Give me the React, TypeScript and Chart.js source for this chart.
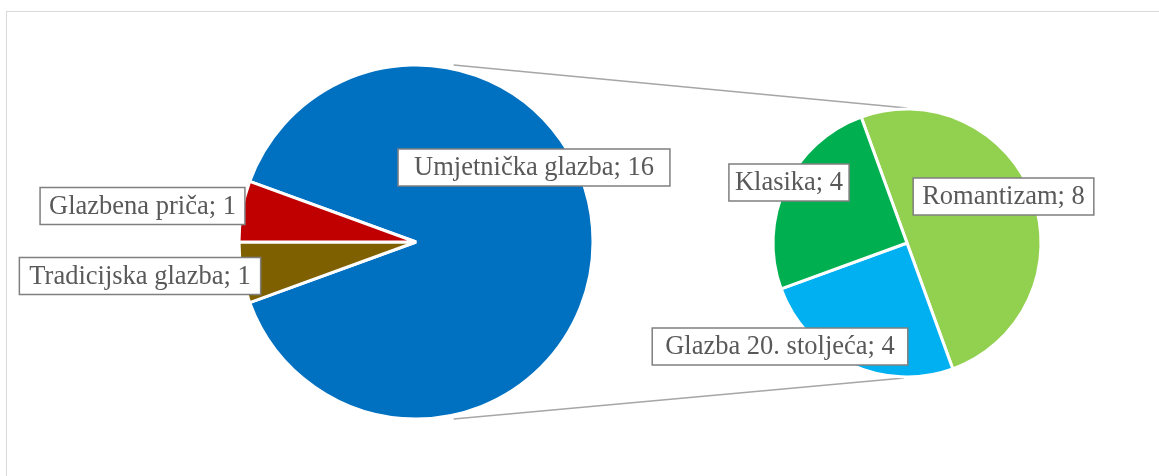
import React, { useEffect, useRef } from 'react';
import { Chart, registerables } from 'chart.js';

Chart.register(...registerables);

// ---- data ----
const mainLabels = ['Umjetnička glazba', 'Tradicijska glazba', 'Glazbena priča'];
const mainValues = [16, 1, 1];
const mainColors = ['#0070C0', '#7F6000', '#C00000'];

const subLabels = ['Romantizam', 'Glazba 20. stoljeća', 'Klasika'];
const subValues = [8, 4, 4];
const subColors = ['#92D050', '#00B0F0', '#00B050'];

// ---- layout (relative to each pie's centre) ----
const mainLabelOffsets: [number, number][] = [[118, -74.5], [-276, 34], [-273.5, -36]];
const mainLabelPad = [16, 10, 9];
const subLabelOffsets: [number, number][] = [[96.5, -46.5], [-127, 103.5], [-118, -60.5]];
const subLabelPad = [9, 13, 6];

const W = 1159;
const H = 476;
const FONT = '26.5px "Liberation Serif", "Times New Roman", serif';

function makeLabelPlugin(
  labels: string[],
  values: number[],
  offsets: [number, number][],
  pads: number[]
) {
  return {
    id: 'boxLabels',
    afterDatasetsDraw(chart: any) {
      const ctx = chart.ctx as CanvasRenderingContext2D;
      const meta = chart.getDatasetMeta(0);
      const a0: any = meta.data[0];
      const cx = a0.x;
      const cy = a0.y;
      ctx.save();
      ctx.font = FONT;
      ctx.textAlign = 'center';
      ctx.textBaseline = 'middle';
      labels.forEach((l, i) => {
        const text = `${l}; ${values[i]}`;
        const tw = ctx.measureText(text).width;
        const bw = tw + 2 * pads[i];
        const bh = 37;
        const x = cx + offsets[i][0];
        const y = cy + offsets[i][1];
        ctx.fillStyle = '#FFFFFF';
        ctx.fillRect(x - bw / 2, y - bh / 2, bw, bh);
        ctx.strokeStyle = '#7F7F7F';
        ctx.lineWidth = 1.5;
        ctx.strokeRect(x - bw / 2, y - bh / 2, bw, bh);
        ctx.fillStyle = '#595959';
        ctx.fillText(text, x, y + 1);
      });
      ctx.restore();
    },
  };
}

export default function App() {
  const mainRef = useRef<HTMLCanvasElement>(null);
  const subRef = useRef<HTMLCanvasElement>(null);

  useEffect(() => {
    const mainChart = new Chart(mainRef.current!, {
      type: 'pie',
      data: {
        labels: mainLabels,
        datasets: [
          {
            data: mainValues,
            backgroundColor: mainColors,
            borderColor: '#FFFFFF',
            borderWidth: 3,
          },
        ],
      },
      options: {
        responsive: false,
        animation: false,
        rotation: -70,
        radius: 177,
        layout: { padding: { left: 0, right: 327, top: 8, bottom: 0 } },
        plugins: { legend: { display: false }, tooltip: { enabled: false } },
      },
      plugins: [makeLabelPlugin(mainLabels, mainValues, mainLabelOffsets, mainLabelPad)],
    });

    const connectorPlugin = {
      id: 'connectors',
      beforeDatasetsDraw(chart: any) {
        const ctx = chart.ctx as CanvasRenderingContext2D;
        const m: any = mainChart.getDatasetMeta(0).data[0];
        const s: any = chart.getDatasetMeta(0).data[0];
        const R = m.outerRadius + 4;
        const ang = (12 * Math.PI) / 180;
        ctx.save();
        ctx.strokeStyle = '#A6A6A6';
        ctx.lineWidth = 1.5;
        ctx.beginPath();
        ctx.moveTo(m.x + R * Math.sin(ang), m.y - R * Math.cos(ang));
        ctx.lineTo(s.x, s.y - s.outerRadius - 1);
        ctx.moveTo(m.x + R * Math.sin(ang), m.y + R * Math.cos(ang));
        ctx.lineTo(s.x - 3, s.y + s.outerRadius + 1);
        ctx.stroke();
        ctx.restore();
      },
    };

    const subChart = new Chart(subRef.current!, {
      type: 'pie',
      data: {
        labels: subLabels,
        datasets: [
          {
            data: subValues,
            backgroundColor: subColors,
            borderColor: '#FFFFFF',
            borderWidth: 3,
          },
        ],
      },
      options: {
        responsive: false,
        animation: false,
        rotation: -20,
        radius: 134,
        layout: { padding: { left: 655, right: 0, top: 10, bottom: 0 } },
        plugins: { legend: { display: false }, tooltip: { enabled: false } },
      },
      plugins: [connectorPlugin, makeLabelPlugin(subLabels, subValues, subLabelOffsets, subLabelPad)],
    });

    return () => {
      subChart.destroy();
      mainChart.destroy();
    };
  }, []);

  return (
    <div
      style={{
        position: 'absolute',
        left: 0,
        top: 0,
        width: W,
        height: H,
        overflow: 'hidden',
        background: '#FFFFFF',
      }}
    >
      <div
        style={{
          position: 'absolute',
          left: 6,
          top: 11,
          width: 1300,
          height: 600,
          border: '1px solid #D9D9D9',
          boxSizing: 'border-box',
        }}
      />
      <canvas ref={mainRef} width={W} height={H} style={{ position: 'absolute', left: 0, top: 0 }} />
      <canvas ref={subRef} width={W} height={H} style={{ position: 'absolute', left: 0, top: 0 }} />
    </div>
  );
}
